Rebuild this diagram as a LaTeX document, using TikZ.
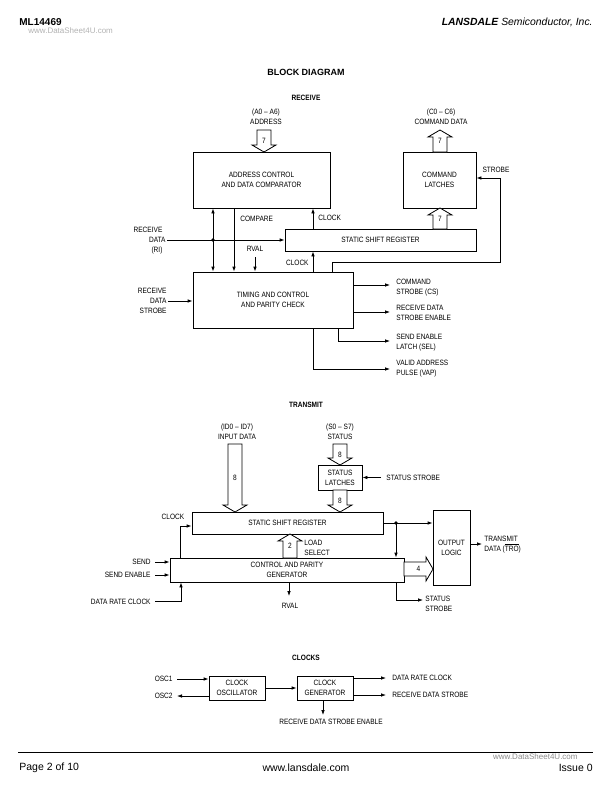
\documentclass[tikz,border=0pt]{standalone}
\usepackage{fontspec}
\setmainfont{Liberation Sans}
\newfontfamily\narrow{Liberation Sans}[FakeStretch=0.85]
\usetikzlibrary{arrows.meta}

\tikzset{
  pics/bus/.style args={#1/#2}{code={
    \draw[fill=white] (-7,0) -- (-7,#1-7) -- (-12,#1-7) -- (0,#1)
      -- (12,#1-7) -- (7,#1-7) -- (7,0) -- cycle;
    \node[lbl] (-n) at (0,#1/2) {#2};
  }}
}

\begin{document}
\begin{tikzpicture}[x=1pt, y=-1pt, line width=0.8pt, >={Latex[length=5pt,width=3.6pt]},
  lbl/.style={font=\narrow\fontsize{7.7}{10}\selectfont, inner sep=0pt, align=center},
  blk/.style={draw, lbl},
  head/.style={font=\narrow\bfseries\fontsize{7.7}{10}\selectfont, inner sep=0pt}]
\useasboundingbox (0,0) rectangle (612,792);

% page header
\node[anchor=west, font=\bfseries\fontsize{10}{12}\selectfont, inner sep=0pt] (part) at (19,22) {ML14469};
\node[anchor=west, font=\fontsize{8}{9}\selectfont, text=black!30, inner sep=0pt] (wm1) at (28,31) {www.DataSheet4U.com};
\node[anchor=east, font=\itshape\fontsize{10.4}{12}\selectfont, inner sep=0pt] (maker) at (593,22) {\bfseries LANSDALE \mdseries Semiconductor, Inc.};
\node[font=\bfseries\fontsize{9}{11}\selectfont, inner sep=0pt] (ttl) at (306,72) {BLOCK DIAGRAM};

% receive
\node[head] (rxt) at (306,98) {RECEIVE};
\node[lbl] (adrl) at (266,117) {(A0 – A6)\\ADDRESS};
\node[lbl] (cmdl) at (441,117) {(C0 – C6)\\COMMAND DATA};
\node[blk, minimum width=137, minimum height=56] (adr) at (261.5,180) {ADDRESS CONTROL\\AND DATA COMPARATOR};
\node[blk, minimum width=73, minimum height=56] (cmd) at (439.5,180) {COMMAND\\LATCHES};
\node[blk, minimum width=191, minimum height=22] (rsr) at (380.5,240) {STATIC SHIFT REGISTER};
\node[blk, minimum width=160, minimum height=56] (tim) at (273,300) {TIMING AND CONTROL\\AND PARITY CHECK};

\coordinate (ri) at (167,240);
\coordinate (rj) at (213,240);
\coordinate (cmp) at (234,240);
\coordinate (rv) at (255,257);
\coordinate (ck) at (313,240);
\coordinate (st1) at (332,262);
\coordinate (st2) at (500,262);
\coordinate (rds) at (168,301);
\coordinate (cs) at (390,285);
\coordinate (rdse) at (390,312);
\coordinate (sel) at (390,341);
\coordinate (vap) at (390,369);

\draw[->] (ri) -- (rsr.west);
\draw[<->] (adr.south -| rj) -- (tim.north -| rj);
\fill (rj) circle (1.9pt);
\draw[->] (adr.south -| cmp) -- (tim.north -| cmp);
\draw[->] (rv) -- (tim.north -| rv);
\draw[->] (rsr.north -| ck) -- (adr.south -| ck);
\draw[->] (tim.north -| ck) -- (rsr.south -| ck);
\draw[->] (tim.north -| st1) -- (st1) -- (st2) |- ([yshift=2pt]cmd.east);
\draw[->] (rds) -- (tim.west |- rds);
\draw[->] (tim.east |- cs) -- (cs);
\draw[->] (tim.east |- rdse) -- (rdse);
\draw[->] ([xshift=65pt]tim.south) |- (sel);
\draw[->] ([xshift=40pt]tim.south) |- (vap);

\node[lbl] (rdl1) at (148,230) {RECEIVE};
\node[lbl, anchor=east] (rdl2) at (166,240) {DATA};
\node[lbl] (rdl3) at (157,251) {(RI)};
\node[lbl, anchor=west] (cmpl) at (240,219) {COMPARE};
\node[lbl] (rvl) at (255,249) {RVAL};
\node[lbl, anchor=west] (ckl1) at (318,218) {CLOCK};
\node[lbl, anchor=east] (ckl2) at (309,263) {CLOCK};
\node[lbl] (stl) at (496,170) {STROBE};
\node[lbl, anchor=east, align=right] (rdsl) at (167,300.5) {RECEIVE\\DATA\\STROBE};
\node[lbl, anchor=west, align=left] (csl) at (396,287.5) {COMMAND\\STROBE (CS)};
\node[lbl, anchor=west, align=left] (rdsel) at (396,313) {RECEIVE DATA\\STROBE ENABLE};
\node[lbl, anchor=west, align=left] (sell) at (396,342.5) {SEND ENABLE\\LATCH (SEL)};
\node[lbl, anchor=west, align=left] (vapl) at (396,369) {VALID ADDRESS\\PULSE (VAP)};

\pic (adrbus) at (264,130) {bus=22/7};
\pic[rotate=180] (cdbus) at (440,152) {bus=22/7};
\pic[rotate=180] (clbus) at (440,229) {bus=21/7};

% transmit
\node[head] (txt) at (306,405) {TRANSMIT};
\node[lbl] (idl) at (237,431.5) {(ID0 – ID7)\\INPUT DATA};
\node[lbl] (sdl) at (340,431.5) {(S0 – S7)\\STATUS};
\node[blk, minimum width=44, minimum height=25] (sl) at (340,477.5) {STATUS\\LATCHES};
\node[blk, minimum width=191, minimum height=22] (tsr) at (287.5,523) {STATIC SHIFT REGISTER};
\node[blk, minimum width=234, minimum height=24] (cpg) at (287,570) {CONTROL AND PARITY\\GENERATOR};
\node[blk, minimum width=37, minimum height=75] (out) at (451.5,547.5) {OUTPUT\\LOGIC};

\coordinate (ss) at (381,477.5);
\coordinate (dot) at (396,523);
\coordinate (tro) at (482,544);
\coordinate (snd) at (155,562);
\coordinate (sne) at (155,575);
\coordinate (drc) at (155,601);
\coordinate (rv2) at (289,596);
\coordinate (sst) at (423,600);

\draw[->] (ss) -- (sl.east);
\draw (tsr.east) -- (dot);
\draw[->] (dot) -- (out.west |- dot);
\draw[->] (dot) -- (cpg.north -| dot);
\fill (dot) circle (1.9pt);
\draw[->] (out.east |- tro) -- (tro);
\draw[->] ([xshift=-107pt]cpg.north) |- ([yshift=-3pt]tsr.west);
\draw[->] (snd) -- (cpg.west |- snd);
\draw[->] (sne) -- (cpg.west |- sne);
\draw[->] (drc) -| ([xshift=-106pt]cpg.south);
\draw[->] (cpg.south -| rv2) -- (rv2);
\draw[->] (cpg.south -| dot) |- (sst);

\node[lbl, anchor=west] (ssl) at (386,477.5) {STATUS STROBE};
\node[lbl, anchor=west, align=left] (trol) at (484,544.5) {TRANSMIT\\DATA ($\overline{\hbox{TRO}}$)};
\node[lbl] (tckl) at (173,517) {CLOCK};
\node[lbl, anchor=east] (sndl) at (151,562) {SEND};
\node[lbl, anchor=east] (snel) at (151,575) {SEND ENABLE};
\node[lbl, anchor=east] (drcl) at (151,602) {DATA RATE CLOCK};
\node[lbl] (rv2l) at (290,606) {RVAL};
\node[lbl, anchor=west, align=left] (sstl) at (425,603.5) {STATUS\\STROBE};
\node[lbl, anchor=west, align=left] (lsl) at (304,547.5) {LOAD\\SELECT};

\pic (idbus) at (235,444) {bus=68/8};
\pic (sdbus) at (340,444) {bus=21/8};
\pic (slbus) at (340,490) {bus=22/8};
\pic[rotate=180] (lsbus) at (290,558) {bus=24/2};
\pic[rotate=90] (pbus) at (404,569) {bus=29/4};

% clocks
\node[head] (clkt) at (306,658) {CLOCKS};
\node[blk, minimum width=56, minimum height=24] (osc) at (237,688) {CLOCK\\OSCILLATOR};
\node[blk, minimum width=56, minimum height=24] (gen) at (325,688) {CLOCK\\GENERATOR};
\coordinate (o1) at (177,679);
\coordinate (o2) at (177,696);
\coordinate (c1) at (386,678);
\coordinate (c2) at (386,695);
\coordinate (c3) at (323,715);
\draw[->] (o1) -- (osc.west |- o1);
\draw[->] (osc.west |- o2) -- (o2);
\draw[->] (osc) -- (gen);
\draw[->] (gen.east |- c1) -- (c1);
\draw[->] (gen.east |- c2) -- (c2);
\draw[->] (gen.south -| c3) -- (c3);
\node[lbl, anchor=east] (o1l) at (173,679) {OSC1};
\node[lbl, anchor=east] (o2l) at (173,696) {OSC2};
\node[lbl, anchor=west] (c1l) at (392,678) {DATA RATE CLOCK};
\node[lbl, anchor=west] (c2l) at (392,695) {RECEIVE DATA STROBE};
\node[lbl] (c3l) at (331,722) {RECEIVE DATA STROBE ENABLE};

% page footer
\draw (18,752) -- (593,752);
\node[anchor=west, font=\fontsize{10.5}{12}\selectfont, inner sep=0pt] (pg) at (19,768) {Page 2 of 10};
\node[font=\fontsize{10.5}{12}\selectfont, inner sep=0pt] (web) at (306,768) {www.lansdale.com};
\node[anchor=east, font=\fontsize{10.5}{12}\selectfont, inner sep=0pt] (iss) at (593,768) {Issue 0};
\node[anchor=east, font=\fontsize{8}{9}\selectfont, text=black!45, inner sep=0pt] (wm2) at (578,757) {www.DataSheet4U.com};
\end{tikzpicture}
\end{document}
